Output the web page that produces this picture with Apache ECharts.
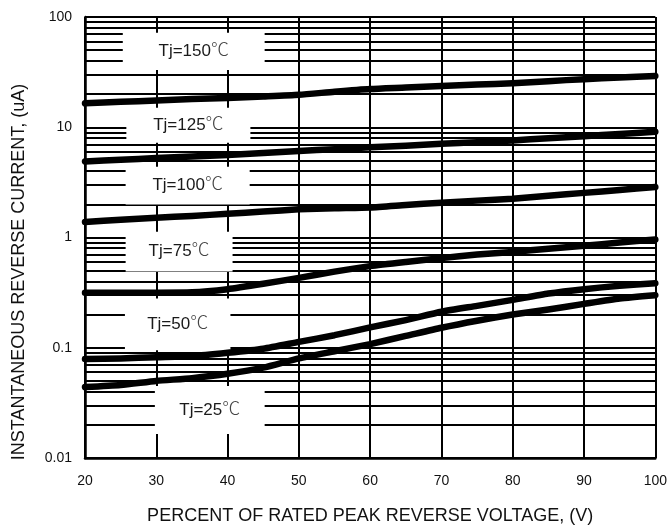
<!DOCTYPE html>
<html>
<head>
<meta charset="utf-8">
<script src="https://cdn.jsdelivr.net/npm/echarts@6/dist/echarts.min.js"></script>
<style>html,body{margin:0;padding:0;background:#fff}#c{width:670px;height:530px}</style>
</head>
<body>
<div id="c"></div>
<script>
const voltage = [20,25,30,35,40,45,50,55,60,65,70,75,80,85,90,95,100];
const tj150 = [16.5,17.0,17.5,18.0,18.4,19.0,19.7,21.0,22.2,22.9,23.7,24.4,25.1,26.2,27.3,28.2,29.2];
const tj125 = [4.9,5.07,5.25,5.42,5.6,5.85,6.1,6.33,6.57,6.8,7.07,7.33,7.6,7.95,8.3,8.7,9.1];
const tj100 = [1.38,1.45,1.51,1.57,1.64,1.72,1.80,1.84,1.87,1.97,2.07,2.16,2.25,2.39,2.54,2.7,2.87];
const tj75  = [0.316,0.316,0.316,0.318,0.34,0.38,0.43,0.49,0.55,0.6,0.65,0.7,0.74,0.79,0.84,0.9,0.96];
const tj50  = [0.079,0.080,0.082,0.084,0.09,0.098,0.113,0.13,0.153,0.178,0.212,0.24,0.272,0.31,0.34,0.365,0.385];
const tj25  = [0.044,0.046,0.050,0.053,0.058,0.066,0.08,0.093,0.108,0.128,0.152,0.176,0.2,0.222,0.25,0.28,0.30];
const curveNames = ['Tj=150℃','Tj=125℃','Tj=100℃','Tj=75℃','Tj=50℃','Tj=25℃'];
const yTicks = [0.01,0.1,1,10,100];
const minorGridValues = [];
[0.01,0.1,1,10].forEach(d => { for (let k = 2; k <= 9; k++) minorGridValues.push(+(d*k).toPrecision(3)); });
// label boxes in data units
const boxX1 = [25.3, 25.8, 25.7, 25.7, 25.6, 29.8];
const boxX2 = [45.2, 43.2, 43.1, 40.7, 40.4, 45.2];
const boxYTop = [72, 15, 4.39, 1.13, 0.28, 0.0449];
const boxYBot = [33.1, 7.24, 1.99, 0.492, 0.095, 0.0165];

const FONT = '"Liberation Sans", Arial, sans-serif';
const curves = [tj150, tj125, tj100, tj75, tj50, tj25];

const series = [];
series.push({
  type: 'line', data: [], silent: true, z: 1,
  markLine: {
    silent: true, symbol: ['none','none'], z: 1, animation: false,
    label: {show: false},
    lineStyle: {color: '#000', width: 2, type: 'solid'},
    emphasis: {disabled: true},
    data: minorGridValues.map(v => ({yAxis: v}))
  }
});
series.push({
  type: 'line', data: [], silent: true, z: 3,
  markArea: {
    silent: true, z: 3, animation: false,
    itemStyle: {color: '#fff', borderWidth: 0},
    label: {
      show: true, position: 'inside',
      formatter: p => '{t|' + p.name.replace('℃', '') + '}{c|℃}',
      rich: {
        t: {color: '#1a1a1a', fontSize: 17, fontFamily: FONT},
        c: {color: '#444', fontSize: 18, fontFamily: '"Noto Sans CJK SC", sans-serif', fontWeight: 300, padding: [0, 0, 4, 0]}
      }
    },
    emphasis: {disabled: true},
    data: curveNames.map((n, i) => [
      {name: n, coord: [boxX1[i], boxYTop[i]]},
      {coord: [boxX2[i], boxYBot[i]]}
    ])
  }
});
curves.forEach((arr, i) => {
  series.push({
    type: 'line', name: curveNames[i], z: 5,
    data: voltage.map((x, j) => [x, arr[j]]),
    symbol: 'none', smooth: 0.2,
    lineStyle: {color: '#000', width: 6.5, cap: 'round', join: 'round'},
    emphasis: {disabled: true}
  });
});

const chart = echarts.init(document.getElementById('c'), null, {renderer: 'canvas'});
chart.setOption({
  animation: false,
  backgroundColor: '#fff',
  grid: {left: 85, right: 14, top: 17, bottom: 71, show: false},
  xAxis: {
    type: 'value', min: 20, max: 100, interval: 10,
    name: 'PERCENT OF RATED PEAK REVERSE VOLTAGE, (V)',
    nameLocation: 'middle', nameGap: 49,
    nameTextStyle: {color: '#111', fontSize: 18, fontFamily: FONT},
    axisLine: {show: true, lineStyle: {color: '#000', width: 2.5}},
    axisTick: {show: false},
    axisLabel: {color: '#111', fontSize: 14, fontFamily: FONT, margin: 16},
    splitLine: {show: true, lineStyle: {color: '#000', width: 2}}
  },
  yAxis: {
    type: 'log', logBase: 10, min: 0.01, max: 100,
    axisLine: {show: true, lineStyle: {color: '#000', width: 2.5}},
    axisTick: {show: false},
    axisLabel: {color: '#111', fontSize: 14, fontFamily: FONT, margin: 13,
      formatter: v => { const t = yTicks.find(k => Math.abs(k - v) / k < 1e-6); return t === undefined ? '' : String(t); }},
    splitLine: {show: true, lineStyle: {color: '#000', width: 2}}
  },
  graphic: [{
    type: 'text', x: 19, y: 272, rotation: Math.PI / 2,
    style: {text: 'INSTANTANEOUS REVERSE CURRENT, (uA)', fill: '#111', fontSize: 18,
      fontFamily: FONT, align: 'center', verticalAlign: 'middle'}
  }],
  series: series
});
</script>
</body>
</html>
